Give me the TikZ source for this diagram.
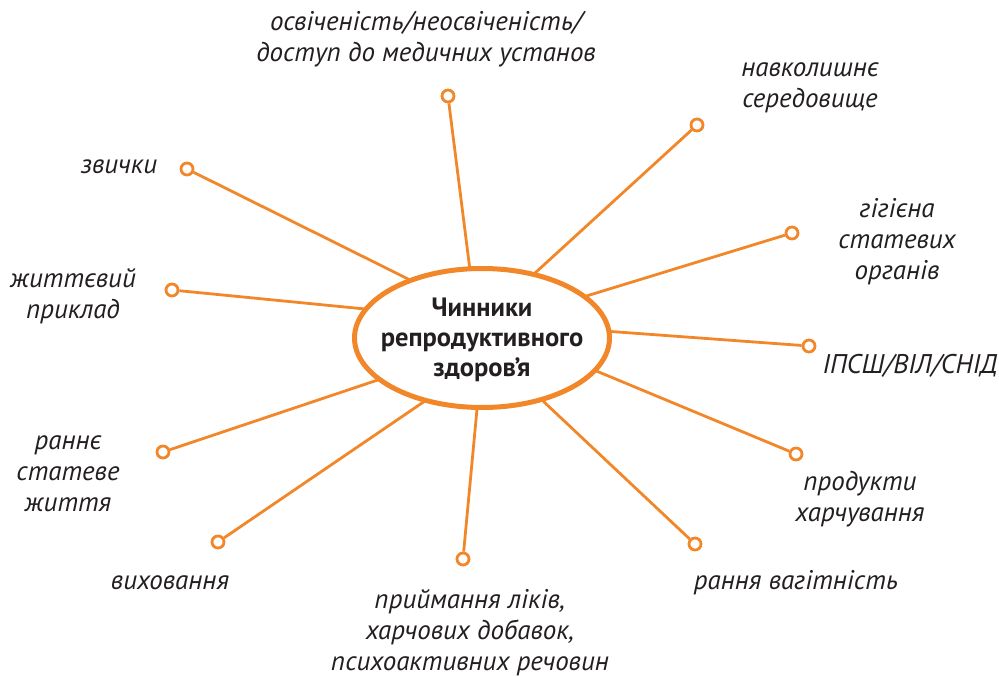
\documentclass[tikz,border=0pt]{standalone}
\usepackage{fontspec}
\usetikzlibrary{shapes.geometric}
\setmainfont{PT Sans}
\newfontfamily\lblfont{PT Sans Italic}
\newfontfamily\ctrfont{PT Sans Bold}
\definecolor{orng}{RGB}{242,135,42}
\definecolor{txt}{RGB}{35,31,32}
\begin{document}
\begin{tikzpicture}[x=1pt,y=-1pt,
  conn/.style={draw=orng,line width=2.8pt},
  dot/.style={circle,draw=orng,fill=white,line width=2.8pt,minimum size=12pt,inner sep=0pt},
  lbl/.style={align=center,text=txt,font=\lblfont\fontsize{27}{31}\selectfont,inner sep=0pt},
  ctr/.style={align=center,text=txt,font=\ctrfont\fontsize{26.5}{30}\selectfont,inner sep=0pt}]
\useasboundingbox (0,0) rectangle (999,677);
\node[ellipse,draw=orng,line width=5pt,fill=white,minimum width=255pt,minimum height=139pt,inner sep=0pt,outer sep=0pt] (e) at (482,338) {};
\node[ctr] (et) at (482,340) {Чинники\\репродуктивного\\здоров’я};
% dots
\node[dot] (d1) at (448,96) {};
\node[dot] (d2) at (697,125) {};
\node[dot] (d3) at (792,233) {};
\node[dot] (d4) at (809,346) {};
\node[dot] (d5) at (796,454) {};
\node[dot] (d6) at (695,544) {};
\node[dot] (d7) at (463,559) {};
\node[dot] (d8) at (218,542) {};
\node[dot] (d9) at (163,452) {};
\node[dot] (d10) at (172,290) {};
\node[dot] (d11) at (187,169) {};
% connectors
\draw[conn] (d1) -- (e.100.5);
\draw[conn] (d2) -- (e.51.7);
\draw[conn] (d3) -- (e.22.8);
\draw[conn] (d4) -- (e.3.5);
\draw[conn] (d5) -- (e.-16.3);
\draw[conn] (d6) -- (e.-46.4);
\draw[conn] (d7) -- (e.-94);
\draw[conn] (d8) -- (e.-132);
\draw[conn] (d9) -- (e.-158.5);
\draw[conn] (d10) -- (e.166);
\draw[conn] (d11) -- (e.141);
% labels
\node[lbl] (l1) at (426,39) {освіченість/неосвіченість/\\доступ до медичних установ};
\node[lbl] (l2) at (810,88) {навколишнє\\середовище};
\node[lbl] (l3) at (897,242) {гігієна\\статевих\\органів};
\node[lbl] (l4) at (910,366) {ІПСШ/ВІЛ/СНІД};
\node[lbl] (l5) at (860,499) {продукти\\харчування};
\node[lbl] (l6) at (796,583) {рання вагітність};
\node[lbl] (l7) at (470,633) {приймання ліків,\\харчових добавок,\\психоактивних речовин};
\node[lbl] (l8) at (170,583) {виховання};
\node[lbl] (l9) at (68,474) {раннє\\статеве\\життя};
\node[lbl] (l10) at (73,296) {життєвий\\приклад};
\node[lbl] (l11) at (119,167) {звички};
\end{tikzpicture}
\end{document}
